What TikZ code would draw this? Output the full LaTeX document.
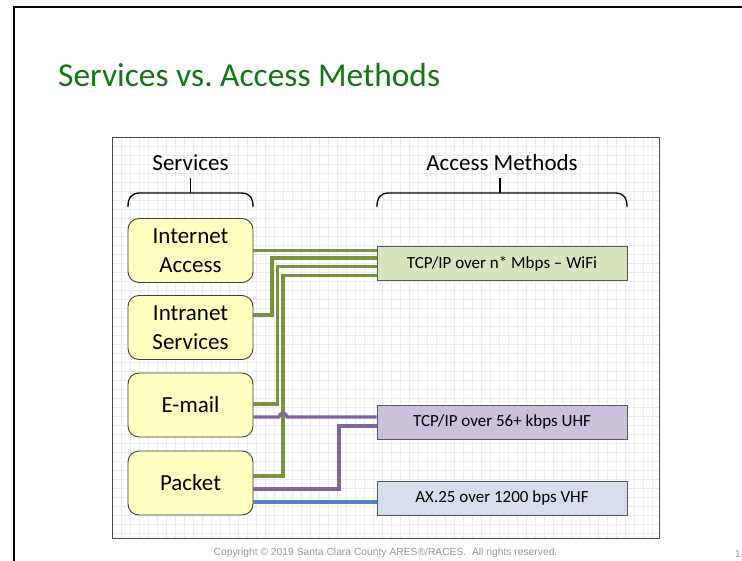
\documentclass[tikz,border=0pt]{standalone}
\usepackage{fontspec}
\setmainfont{Carlito}
\newfontfamily\arialf{Liberation Sans}
\usetikzlibrary{calc}
\frenchspacing
\definecolor{titlegreen}{HTML}{127812}
\definecolor{gl}{HTML}{77933C}
\definecolor{pl}{HTML}{8064A2}
\definecolor{bl}{HTML}{4F81BD}
\definecolor{yel}{HTML}{FFFFC0}
\definecolor{wifif}{HTML}{D7E4BD}
\definecolor{uhff}{HTML}{CCC1DA}
\definecolor{vhff}{HTML}{D5DEEA}
\definecolor{gridc}{HTML}{ECECEC}
\tikzset{
  svc/.style={draw=black!75, line width=0.9pt, fill=yel, rounded corners=11pt,
    minimum width=125pt, minimum height=64pt, align=center, inner sep=0pt,
    font=\fontsize{23}{29}\selectfont},
  acc/.style={draw=black!65, line width=1pt, minimum width=250pt, minimum height=34pt,
    inner sep=0pt, font=\fontsize{17}{20}\selectfont},
  hdr/.style={font=\fontsize{23}{28}\selectfont, inner sep=0pt},
  bracec/.style={line width=1.3pt, black},
  conn/.style={line width=3.1pt},
  gline/.style={conn, gl},
  pline/.style={conn, pl},
  bline/.style={conn, bl},
}
\begin{document}
\begin{tikzpicture}[x=1pt,y=-1pt]
\useasboundingbox (0,0) rectangle (742,561);
\fill[white] (0,0) rectangle (742,561);
% slide border
\draw[line width=2pt] (14,561) -- (14,7.5) -- (745,7.5);
% title
\node[anchor=base west, inner sep=0pt, text=titlegreen, font=\fontsize{33.4}{40}\selectfont] (title) at (58,87) {Services vs. Access Methods};
% grid
\foreach \x in {121,130,...,658} \draw[gridc, line width=0.5pt] (\x,137) -- (\x,538);
\foreach \y in {146,155,...,537} \draw[gridc, line width=0.5pt] (112,\y) -- (659,\y);
\draw[black!70, line width=0.9pt] (112,137) rectangle (659,538);
% headers
\node[hdr] (hs) at (190.5,163) {Services};
\node[hdr] (ha) at (502,163) {Access Methods};
% braces
\draw[bracec] (128,207) .. controls (128,198) and (131,193) .. (140,193) -- (241,193) .. controls (250,193) and (253,198) .. (253,207);
\draw[bracec] (190.5,178) -- (190.5,193);
\draw[bracec] (377,207) .. controls (377,198) and (380,193) .. (389,193) -- (615,193) .. controls (624,193) and (627,198) .. (627,207);
\draw[bracec] (500,178) -- (500,193);
% service boxes
\node[svc] (ia) at (190.5,250.5) {Internet\\Access};
\node[svc] (is) at (190.5,327.5) {Intranet\\Services};
\node[svc] (em) at (190.5,405) {E-mail};
\node[svc] (pk) at (190.5,483) {Packet};
% access boxes
\node[acc, fill=wifif] (wifi) at (502,264) {TCP/IP over n* Mbps -- WiFi};
\node[acc, fill=uhff] (uhf) at (502,422) {TCP/IP over 56+ kbps UHF};
\node[acc, fill=vhff] (vhf) at (502,498) {AX.25 over 1200 bps VHF};
% connectors
\draw[gline] ([yshift=0pt]ia.east) -- ([yshift=13.5pt]wifi.west);
\draw[gline] ([yshift=12.5pt]is.east) -| (272,258) -- ([yshift=6pt]wifi.west);
\draw[gline] ([yshift=1pt]em.east) -| (277.5,266.8) -- ([yshift=-2.8pt]wifi.west);
\draw[gline] ([yshift=7pt]pk.east) -| (283,275.8) -- ([yshift=-11.8pt]wifi.west);
\draw[pline] ([yshift=-12pt]em.east) -- (279,417) arc[start angle=180, end angle=0, radius=4pt] -- ([yshift=5pt]uhf.west);
\draw[pline] ([yshift=-6pt]pk.east) -| (339,426) -- ([yshift=-4pt]uhf.west);
\draw[bline] ([yshift=-19pt]pk.east) -- ([yshift=-4pt]vhf.west);
% footer
\node[font=\arialf\fontsize{10.3}{12}\selectfont, text=black!40, inner sep=0pt] (copy) at (385.5,553) {Copyright © 2019 Santa Clara County ARES®/RACES.\ \ All rights reserved.};
\node[anchor=base west, font=\arialf\fontsize{10}{12}\selectfont, text=black!40, inner sep=0pt] (pg) at (735,557) {14};
\end{tikzpicture}
\end{document}
